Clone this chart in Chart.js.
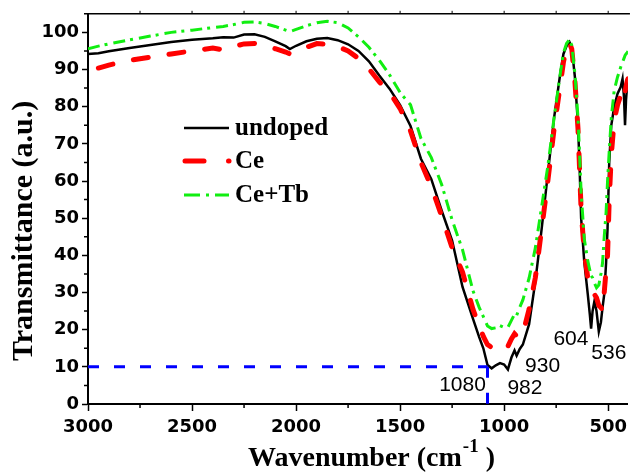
<!DOCTYPE html>
<html>
<head>
<meta charset="utf-8">
<script src="https://cdn.jsdelivr.net/npm/chart.js@4.4.1/dist/chart.umd.min.js"></script>
<style>
  html, body { margin: 0; padding: 0; background: #fff; }
  #ftir { display: block; }
</style>
</head>
<body>
<canvas id="ftir" width="633" height="475"></canvas>
<script>
// FTIR spectra (x in cm-1, y in %)
const wavenumbers = [3000, 2950, 2900, 2800, 2700, 2600, 2500, 2400, 2350, 2300,
  2250, 2200, 2150, 2100, 2050, 2030, 2000, 1950, 1900, 1850,
  1800, 1750, 1700, 1650, 1600, 1550, 1500, 1450, 1400, 1350,
  1300, 1250, 1200, 1150, 1120, 1100, 1080, 1060, 1040, 1020,
  1000, 982, 965, 950, 940, 925, 910, 880, 850, 820,
  790, 760, 730, 715, 700, 686, 675, 660, 645, 638,
  630, 615, 598, 588, 582, 575, 566, 556, 545, 535,
  527, 519, 510, 503, 495, 485, 471, 455, 440, 431,
  424, 419, 414, 408, 405];
const undoped = [94.2, 94.4, 94.9, 95.8, 96.6, 97.4, 98.0, 98.4, 98.7, 98.6,
  99.4, 99.5, 98.8, 97.6, 96.3, 95.5, 96.4, 97.6, 98.3, 98.5,
  97.9, 96.8, 95.0, 92.2, 88.4, 84.8, 80.4, 74.8, 66.0, 60.5,
  52.0, 44.0, 31.5, 23.0, 18.0, 15.0, 10.5, 9.6, 10.4, 11.0,
  10.6, 9.3, 12.5, 14.4, 13.0, 14.8, 16.0, 21.5, 33.0, 47.0,
  62.0, 77.0, 89.0, 94.2, 96.3, 97.4, 96.0, 88.0, 75.0, 65.0,
  50.0, 38.3, 29.5, 24.0, 20.3, 25.0, 27.7, 25.0, 19.5, 22.0,
  26.0, 29.5, 38.0, 47.2, 65.0, 75.0, 80.0, 83.5, 85.3, 87.5,
  82.6, 75.0, 82.0, 86.0, 86.5];
const ceDoped = [null, 90.4, 91.2, 92.5, 93.3, 94.2, 95.0, 95.8, 95.3, 96.2,
  96.9, 97.0, 96.4, 95.6, 94.7, 94.2, 95.0, 96.0, 97.0, 96.8,
  96.2, 95.0, 93.0, 90.2, 86.7, 83.8, 79.5, 73.5, 65.0, 58.5,
  50.5, 42.0, 35.5, 25.5, 21.0, 18.2, 16.0, 15.2, 15.0, 14.9,
  14.4, 15.5, 17.5, 18.9, 18.3, 17.8, 19.0, 25.5, 34.0, 47.0,
  60.0, 74.0, 86.0, 92.0, 96.0, 97.2, 95.5, 87.0, 74.0, 64.0,
  52.0, 41.0, 33.9, 31.5, 30.8, 30.5, 29.5, 28.6, 26.5, 26.0,
  25.1, 30.0, 36.0, 40.0, 55.0, 67.0, 76.4, 80.5, 83.0, 84.5,
  85.7, 84.0, 85.5, 87.0, 87.5];
const ceTb = [95.6, 96.3, 96.9, 98.0, 99.0, 100.0, 100.6, 101.3, 101.6, 102.1,
  102.7, 102.8, 102.4, 101.6, 100.6, 100.2, 100.8, 101.8, 102.6, 103.0,
  102.6, 101.2, 98.8, 96.0, 92.5, 88.5, 83.8, 80.5, 71.5, 66.3,
  59.0, 49.5, 41.5, 30.5, 26.0, 23.5, 21.0, 20.3, 20.5, 21.1,
  20.6, 20.6, 22.5, 24.2, 23.8, 26.0, 28.0, 33.9, 42.0, 53.0,
  64.0, 77.0, 89.0, 94.5, 97.0, 98.1, 96.5, 89.0, 77.0, 68.0,
  57.0, 44.5, 38.5, 36.0, 34.5, 34.0, 32.5, 31.3, 32.0, 35.0,
  38.0, 45.0, 51.6, 60.0, 68.0, 77.0, 84.4, 88.0, 90.6, 92.0,
  93.0, 93.8, 94.2, 94.6, 95.0];
const seriesNames = ['undoped', 'Ce', 'Ce+Tb'];

const xTickValues = [3000, 2500, 2000, 1500, 1000, 500];
const yTickValues = [0, 10, 20, 30, 40, 50, 60, 70, 80, 90, 100];

// guide line to the 1080 band
const guideX = [3000, 1080, 1080];
const guideY = [10, 10, 0];
const peakLabels = ['1080', '982', '930', '604', '536'];

function toPoints(xs, ys) {
  return xs.map((x, i) => ({ x: x, y: ys[i] }));
}

const colors = { undoped: '#000000', ce: '#ff0000', tb: '#11ee11', guide: '#0000ff' };

const decor = {
  id: 'decor',
  afterDraw(chart) {
    const ctx = chart.ctx;
    const a = chart.chartArea;
    const x = chart.scales.x;
    const y = chart.scales.y;
    ctx.save();
    ctx.strokeStyle = '#000';

    // top frame line
    ctx.lineWidth = 1.5;
    ctx.beginPath();
    ctx.moveTo(a.left, a.top);
    ctx.lineTo(a.right + 2, a.top);
    ctx.stroke();

    // minor ticks
    ctx.lineWidth = 1.5;
    ctx.beginPath();
    for (let v = 2750; v >= x.min; v -= 500) {
      const px = x.getPixelForValue(v);
      ctx.moveTo(px, a.bottom);
      ctx.lineTo(px, a.bottom + 4);
    }
    for (let v = 5; v <= y.max; v += 10) {
      const py = y.getPixelForValue(v);
      ctx.moveTo(a.left, py);
      ctx.lineTo(a.left - 4, py);
    }
    ctx.stroke();

    // small ticks on the top frame
    ctx.lineWidth = 1;
    ctx.beginPath();
    for (let v = 2750; v >= x.min; v -= 250) {
      const px = x.getPixelForValue(v);
      ctx.moveTo(px, a.top);
      ctx.lineTo(px, a.top - 3);
    }
    ctx.stroke();

    // peak labels
    const anchors = [[1200, 5.0], [900, 4.3], [815, 10.2], [679, 17.4], [497, 13.8]];
    ctx.fillStyle = '#000';
    ctx.font = '21px "Liberation Sans"';
    ctx.textAlign = 'center';
    ctx.textBaseline = 'middle';
    peakLabels.forEach((t, i) => {
      ctx.fillText(t, x.getPixelForValue(anchors[i][0]), y.getPixelForValue(anchors[i][1]));
    });

    // legend inside the plot
    const lx0 = 184, lx1 = 229, tx = 235;
    const rows = [128, 161, 195];
    ctx.lineCap = 'butt';
    ctx.strokeStyle = colors.undoped;
    ctx.lineWidth = 2.5;
    ctx.beginPath(); ctx.moveTo(lx0, rows[0]); ctx.lineTo(lx1, rows[0]); ctx.stroke();

    ctx.strokeStyle = colors.ce;
    ctx.lineWidth = 5;
    ctx.lineCap = 'round';
    ctx.beginPath(); ctx.moveTo(lx0 + 1, rows[1]); ctx.lineTo(lx0 + 20, rows[1]); ctx.stroke();
    ctx.beginPath(); ctx.moveTo(lx1 - 0.5, rows[1]); ctx.lineTo(lx1, rows[1]); ctx.stroke();

    ctx.strokeStyle = colors.tb;
    ctx.lineWidth = 3;
    ctx.lineCap = 'butt';
    ctx.setLineDash([16, 6, 3, 6]);
    ctx.beginPath(); ctx.moveTo(lx0, rows[2]); ctx.lineTo(lx1, rows[2]); ctx.stroke();
    ctx.setLineDash([]);

    ctx.fillStyle = '#000';
    ctx.font = 'bold 25px "Liberation Serif"';
    ctx.textAlign = 'left';
    ctx.textBaseline = 'alphabetic';
    seriesNames.forEach((n, i) => ctx.fillText(n, tx, rows[i] + 7));

    // y title
    ctx.save();
    ctx.translate(32, (a.top + a.bottom) / 2 + 22);
    ctx.rotate(-Math.PI / 2);
    ctx.font = 'bold 30px "Liberation Serif"';
    ctx.textAlign = 'center';
    ctx.fillText('Transmittance (a.u.)', 0, 0);
    ctx.restore();

    // x title with superscript
    ctx.font = 'bold 28px "Liberation Serif"';
    const base = 'Wavenumber (cm';
    const sup = '-1';
    const tail = ' )';
    const w1 = ctx.measureText(base).width;
    ctx.font = 'bold 19px "Liberation Serif"';
    const w2 = ctx.measureText(sup).width;
    const sx = a.left + 160;
    const by = 466;
    ctx.font = 'bold 28px "Liberation Serif"';
    ctx.fillText(base, sx, by);
    ctx.font = 'bold 19px "Liberation Serif"';
    ctx.fillText(sup, sx + w1 + 1, by - 14);
    ctx.font = 'bold 28px "Liberation Serif"';
    ctx.fillText(tail, sx + w1 + w2 + 1, by);

    ctx.restore();
  }
};

const tickFont = { family: 'DejaVu Sans', weight: 'bold', size: 18 };

function guideSet(from, to) {
  return {
    label: 'guide',
    data: toPoints(guideX.slice(from, to), guideY.slice(from, to)),
    borderColor: colors.guide,
    borderWidth: 3,
    borderDash: [11, 15],
    pointRadius: 0,
    order: 0
  };
}

new Chart(document.getElementById('ftir').getContext('2d'), {
  type: 'line',
  data: {
    datasets: [
      guideSet(0, 2),
      guideSet(1, 3),
      {
        label: seriesNames[2],
        data: toPoints(wavenumbers, ceTb),
        borderColor: colors.tb,
        borderWidth: 3,
        borderDash: [12, 5, 3, 6],
        pointRadius: 0,
        order: 1
      },
      {
        label: seriesNames[1],
        data: toPoints(wavenumbers, ceDoped),
        borderColor: colors.ce,
        borderWidth: 5,
        borderDash: [15, 21],
        borderCapStyle: 'round',
        pointRadius: 0,
        order: 2
      },
      {
        label: seriesNames[0],
        data: toPoints(wavenumbers, undoped),
        borderColor: colors.undoped,
        borderWidth: 2.5,
        pointRadius: 0,
        order: 3
      }
    ]
  },
  options: {
    responsive: false,
    animation: false,
    layout: { padding: { left: 0, top: 9, right: 1, bottom: 0 } },
    plugins: {
      legend: { display: false },
      tooltip: { enabled: false }
    },
    scales: {
      x: {
        type: 'linear',
        reverse: true,
        min: 405,
        max: 3000,
        afterBuildTicks(scale) {
          scale.ticks = xTickValues.map(v => ({ value: v }));
        },
        afterFit(scale) { scale.height = 71; },
        ticks: { color: '#000', font: tickFont, padding: 6, maxRotation: 0, autoSkip: false,
          callback: v => String(v) },
        grid: { drawOnChartArea: false, tickLength: 7, tickColor: '#000', tickWidth: 1.5 },
        border: { color: '#000', width: 2 }
      },
      y: {
        min: 0,
        max: 105,
        afterBuildTicks(scale) {
          scale.ticks = yTickValues.map(v => ({ value: v }));
        },
        afterFit(scale) { scale.width = 88; },
        ticks: { color: '#000', font: tickFont, padding: 3, autoSkip: false,
          callback: v => String(v) },
        grid: { drawOnChartArea: false, tickLength: 6, tickColor: '#000', tickWidth: 1.5 },
        border: { color: '#000', width: 2 }
      }
    }
  },
  plugins: [decor]
});
</script>
</body>
</html>
